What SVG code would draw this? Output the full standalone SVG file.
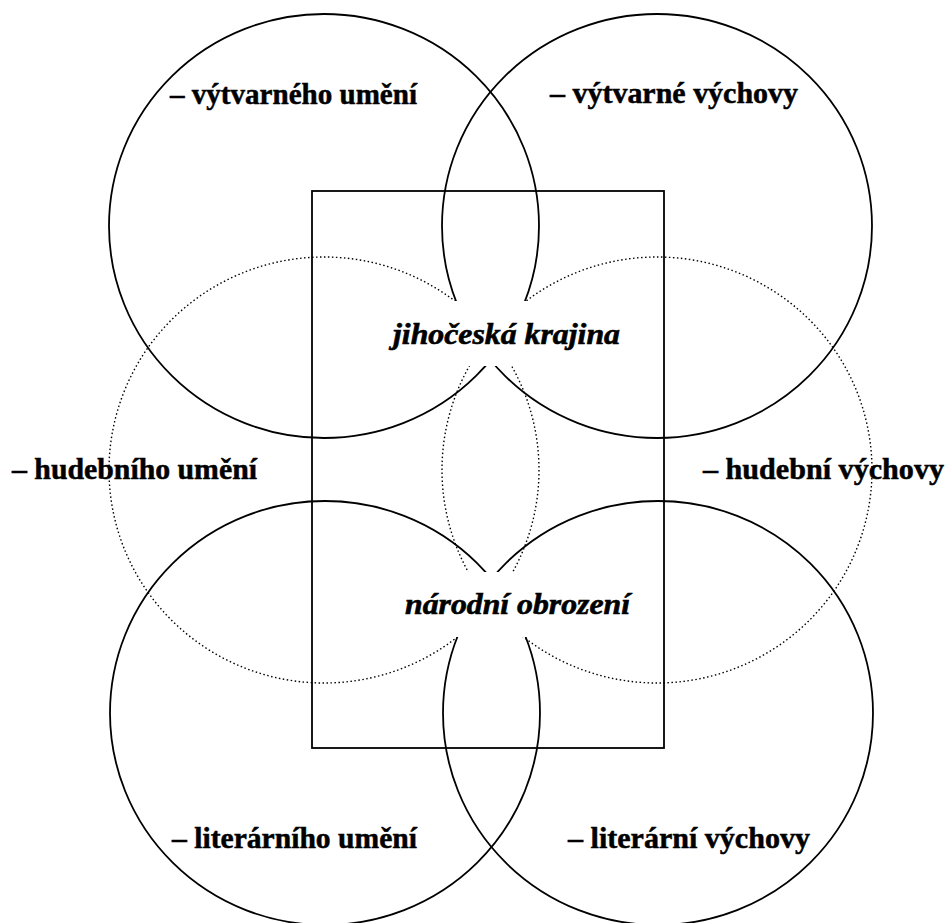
<svg xmlns="http://www.w3.org/2000/svg" width="945" height="923" viewBox="0 0 945 923">
<style>
.solid{fill:none;stroke:#000;stroke-width:1.8}
.dot{fill:none;stroke:#000;stroke-width:1.4;stroke-dasharray:1.5 2.5}
.frame{fill:none;stroke:#000;stroke-width:1.8}
.mask{fill:#fff;stroke:none}
.lbl{font-family:"Liberation Serif","Times New Roman",serif;font-weight:bold;font-size:30px;fill:#000;stroke:#000;stroke-width:0.5}
.ctr{font-family:"Liberation Serif","Times New Roman",serif;font-weight:bold;font-style:italic;font-size:29px;fill:#000;stroke:#000;stroke-width:0.6}
</style>
<rect width="945" height="923" fill="#fff"/>
<g id="frame"><rect class="frame" x="312" y="191" width="352" height="557"/></g>
<g id="circle-vytvarneho-umeni"><ellipse class="solid" cx="324" cy="226" rx="215" ry="212"/></g>
<g id="circle-vytvarne-vychovy"><ellipse class="solid" cx="657" cy="226" rx="215" ry="212"/></g>
<g id="circle-hudebniho-umeni"><ellipse class="dot" cx="324" cy="470" rx="215" ry="213"/></g>
<g id="circle-hudebni-vychovy"><ellipse class="dot" cx="657" cy="470" rx="215" ry="213"/></g>
<g id="circle-literarniho-umeni"><ellipse class="solid" cx="325" cy="713" rx="215" ry="212"/></g>
<g id="circle-literarni-vychovy"><ellipse class="solid" cx="658" cy="713" rx="215" ry="212"/></g>
<g id="connectors"></g>
<g id="center-top">
<rect class="mask" x="390" y="301" width="232" height="65"/>
<text class="ctr" x="393" y="344" textLength="227" lengthAdjust="spacingAndGlyphs">jihočeská krajina</text>
</g>
<g id="center-bottom">
<rect class="mask" x="402" y="572" width="230" height="65"/>
<text class="ctr" x="405" y="614" textLength="225" lengthAdjust="spacingAndGlyphs">národní obrození</text>
</g>
<g id="labels">
<text class="lbl" x="170" y="104" textLength="247" lengthAdjust="spacingAndGlyphs">– výtvarného umění</text>
<text class="lbl" x="550" y="103" textLength="248" lengthAdjust="spacingAndGlyphs">– výtvarné výchovy</text>
<text class="lbl" x="12" y="479" textLength="245" lengthAdjust="spacingAndGlyphs">– hudebního umění</text>
<text class="lbl" x="703" y="479" textLength="241" lengthAdjust="spacingAndGlyphs">– hudební výchovy</text>
<text class="lbl" x="172" y="848" textLength="245" lengthAdjust="spacingAndGlyphs">– literárního umění</text>
<text class="lbl" x="568" y="848" textLength="242" lengthAdjust="spacingAndGlyphs">– literární výchovy</text>
</g>
</svg>
